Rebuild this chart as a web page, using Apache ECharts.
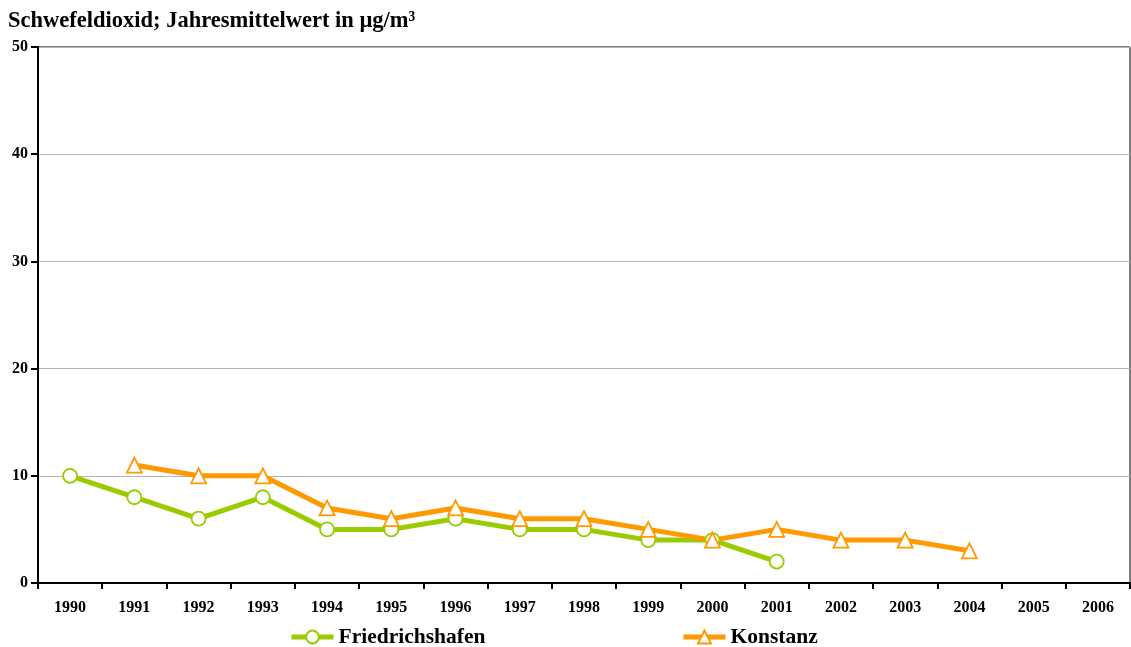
<!DOCTYPE html>
<html>
<head>
<meta charset="utf-8">
<script src="https://cdn.jsdelivr.net/npm/echarts@6/dist/echarts.min.js"></script>
<style>
  html, body { margin: 0; padding: 0; background: #fff; }
  #chart { width: 1131px; height: 647px; }
</style>
</head>
<body>
<div id="chart"></div>
<script>
const years = ['1990', '1991', '1992', '1993', '1994', '1995', '1996', '1997', '1998',
  '1999', '2000', '2001', '2002', '2003', '2004', '2005', '2006'];
const friedrichshafen = [10, 8, 6, 8, 5, 5, 6, 5, 5, 4, 4, 2, null, null, null, null, null];
const konstanz = [null, 11, 10, 10, 7, 6, 7, 6, 6, 5, 4, 5, 4, 4, 3, null, null];

const serif = '"Liberation Serif", "Times New Roman", serif';
const legendText = { fontFamily: serif, fontWeight: 'bold', fontSize: 21.5, color: '#000' };

const chart = echarts.init(document.getElementById('chart'));

chart.setOption({
  animation: false,
  title: {
    text: 'Schwefeldioxid; Jahresmittelwert in µg/m³',
    left: 3,
    top: 5,
    textStyle: { fontFamily: serif, fontWeight: 'bold', fontSize: 22.5, color: '#000' }
  },
  legend: [
    {
      data: ['Friedrichshafen'],
      left: 284,
      top: 621,
      itemWidth: 42,
      itemHeight: 16,
      itemGap: 0,
      lineStyle: { width: 5 },
      textStyle: legendText
    },
    {
      data: ['Konstanz'],
      left: 676,
      top: 621,
      itemWidth: 42,
      itemHeight: 16,
      lineStyle: { width: 5 },
      textStyle: legendText
    }
  ],
  grid: {
    left: 38,
    right: 1,
    top: 47,
    bottom: 64,
    show: true,
    borderColor: '#000',
    borderWidth: 1
  },
  xAxis: {
    type: 'category',
    data: years,
    boundaryGap: true,
    axisLine: { lineStyle: { color: '#000', width: 2 } },
    axisTick: { show: true, length: 6, lineStyle: { color: '#000', width: 2 } },
    axisLabel: { fontFamily: serif, fontWeight: 'bold', fontSize: 16, color: '#000', margin: 17 }
  },
  yAxis: {
    type: 'value',
    min: 0,
    max: 50,
    interval: 10,
    axisLine: { show: true, lineStyle: { color: '#000', width: 2 } },
    axisTick: { show: true, length: 7, lineStyle: { color: '#000', width: 2 } },
    axisLabel: { fontFamily: serif, fontWeight: 'bold', fontSize: 16, color: '#000', margin: 10 },
    splitLine: { lineStyle: { color: '#b3b3b3', width: 1 } }
  },
  series: [
    {
      name: 'Friedrichshafen',
      type: 'line',
      data: friedrichshafen,
      symbol: 'circle',
      symbolSize: 14,
      color: '#99cc00',
      lineStyle: { color: '#99cc00', width: 5 },
      itemStyle: { color: '#fff', borderColor: '#99cc00', borderWidth: 1.8 }
    },
    {
      name: 'Konstanz',
      type: 'line',
      data: konstanz,
      symbol: 'triangle',
      symbolSize: 15,
      color: '#ff9900',
      lineStyle: { color: '#ff9900', width: 5 },
      itemStyle: { color: '#fff', borderColor: '#ff9900', borderWidth: 1.8 }
    }
  ]
});
</script>
</body>
</html>
